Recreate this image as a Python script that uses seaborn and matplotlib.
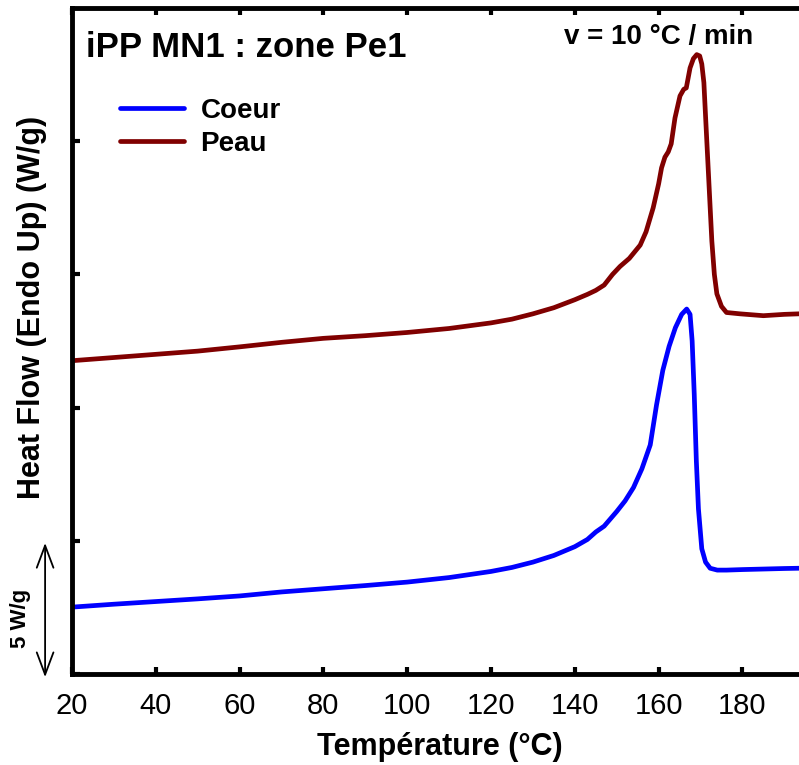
import numpy as np
import pandas as pd
import seaborn as sns
import matplotlib
matplotlib.use("Agg")
import matplotlib.pyplot as plt

# DSC curves (temperature in °C, heat flow in W/g, offset)
temp_coeur = [20, 30, 40, 50, 60, 70, 80, 90, 100, 110, 120, 125, 130, 135, 140,
              143, 145, 147, 150, 152, 154, 156, 158, 159.5, 161, 162.5, 164,
              165.5, 166.7, 167.5, 168.0, 168.5, 169.0, 169.5, 170.3, 171.2,
              172.3, 174, 176.2, 180, 185, 190, 193.5]
hf_coeur = [2.51, 2.62, 2.72, 2.82, 2.93, 3.08, 3.20, 3.32, 3.45, 3.62, 3.85,
            4.0, 4.2, 4.45, 4.78, 5.05, 5.33, 5.55, 6.1, 6.5, 7.0, 7.7, 8.6,
            10.1, 11.4, 12.3, 13.0, 13.5, 13.7, 13.5, 12.5, 10.5, 8.0, 6.2,
            4.7, 4.2, 3.97, 3.9, 3.9, 3.92, 3.94, 3.96, 3.97]

temp_peau = [20, 30, 40, 50, 60, 70, 80, 90, 100, 110, 120, 125, 130, 135, 140,
             143, 145, 147, 149, 150.8, 153, 155.6, 157, 158.7, 160, 160.7,
             161.5, 162.3, 163, 163.9, 165.1, 166, 166.6, 167.5, 168.3, 169.1,
             169.8, 170.3, 170.8, 171.1, 171.9, 172.7, 173.3, 173.9, 175,
             176.2, 179.4, 185, 190, 193.5]
hf_peau = [11.76, 11.88, 12.0, 12.12, 12.28, 12.45, 12.6, 12.7, 12.82, 12.97,
           13.18, 13.32, 13.52, 13.75, 14.05, 14.25, 14.4, 14.6, 15.0, 15.3,
           15.6, 16.1, 16.6, 17.5, 18.4, 19.0, 19.4, 19.6, 19.9, 20.87, 21.7,
           21.95, 22.0, 22.75, 23.1, 23.25, 23.2, 22.9, 22.2, 21.25, 18.75,
           16.25, 15.0, 14.27, 13.8, 13.57, 13.52, 13.45, 13.5, 13.52]

x_ticks = [20, 40, 60, 80, 100, 120, 140, 160, 180]
y_ticks = [0, 5, 10, 15, 20]

sns.set_theme(style="ticks")
plt.rcParams['font.family'] = ['Liberation Sans', 'DejaVu Sans']
plt.rcParams['text.color'] = 'black'
plt.rcParams['axes.labelcolor'] = 'black'
plt.rcParams['xtick.color'] = 'black'
plt.rcParams['ytick.color'] = 'black'

fig = plt.figure(figsize=(7.99, 7.65), dpi=100)
ax = fig.add_axes([72/799, 91/765, 727/799, 666/765])

sns.lineplot(x=temp_coeur, y=hf_coeur, ax=ax, color="#0000ff", lw=3.4,
             estimator=None, label="Coeur")
sns.lineplot(x=temp_peau, y=hf_peau, ax=ax, color="#800000", lw=3.4,
             estimator=None, label="Peau")

ax.set_xlim(20, 193.5)
ax.set_ylim(0, 25)
ax.set_xticks(x_ticks)
ax.set_yticks(y_ticks)
ax.set_yticklabels([])
ax.tick_params(axis='x', direction='in', length=5, width=3, top=True,
               labelsize=21, pad=13, colors='black')
ax.tick_params(axis='y', direction='in', length=5.5, width=3, left=True,
               right=False)
ax.spines['right'].set_visible(False)
for s in ['left', 'bottom', 'top']:
    ax.spines[s].set_linewidth(3.5)
    ax.spines[s].set_color('black')

ax.set_xlabel("Température (°C)", fontsize=22, fontweight='bold')
ax.xaxis.set_label_coords(0.506, -0.11)
ax.xaxis.label.set_va('center')
ax.set_ylabel("Heat Flow (Endo Up) (W/g)", fontsize=22, fontweight='bold')
ax.yaxis.set_label_coords(-0.055, 0.551)
ax.yaxis.label.set_va('center')

ax.text(0.019, 0.94, "iPP MN1 : zone Pe1", transform=ax.transAxes,
        fontsize=25, fontweight='bold', ha='left', va='center')
ax.text(0.807, 0.956, "v = 10 °C / min", transform=ax.transAxes,
        fontsize=20, fontweight='bold', ha='center', va='center')

# 5 W/g scale bar
ax.annotate('', xy=(-0.037, -0.12), xytext=(-0.037, 4.92),
            xycoords=ax.get_yaxis_transform(),
            arrowprops=dict(arrowstyle='<->,head_length=0.8,head_width=0.3',
                            lw=1.3, color='black', mutation_scale=20,
                            shrinkA=0, shrinkB=0),
            annotation_clip=False)
ax.text(-0.0715, 2.1, "5 W/g", transform=ax.get_yaxis_transform(),
        rotation=90, fontsize=16, fontweight='bold', ha='center', va='center')

ax.legend(loc='upper left', bbox_to_anchor=(0.066, 0.865), frameon=False,
          borderpad=0, borderaxespad=0, handlelength=2.3, handletextpad=0.6,
          labelspacing=0.26, prop={'size': 20, 'weight': 'bold'})

fig.savefig("out.png", dpi=100)
